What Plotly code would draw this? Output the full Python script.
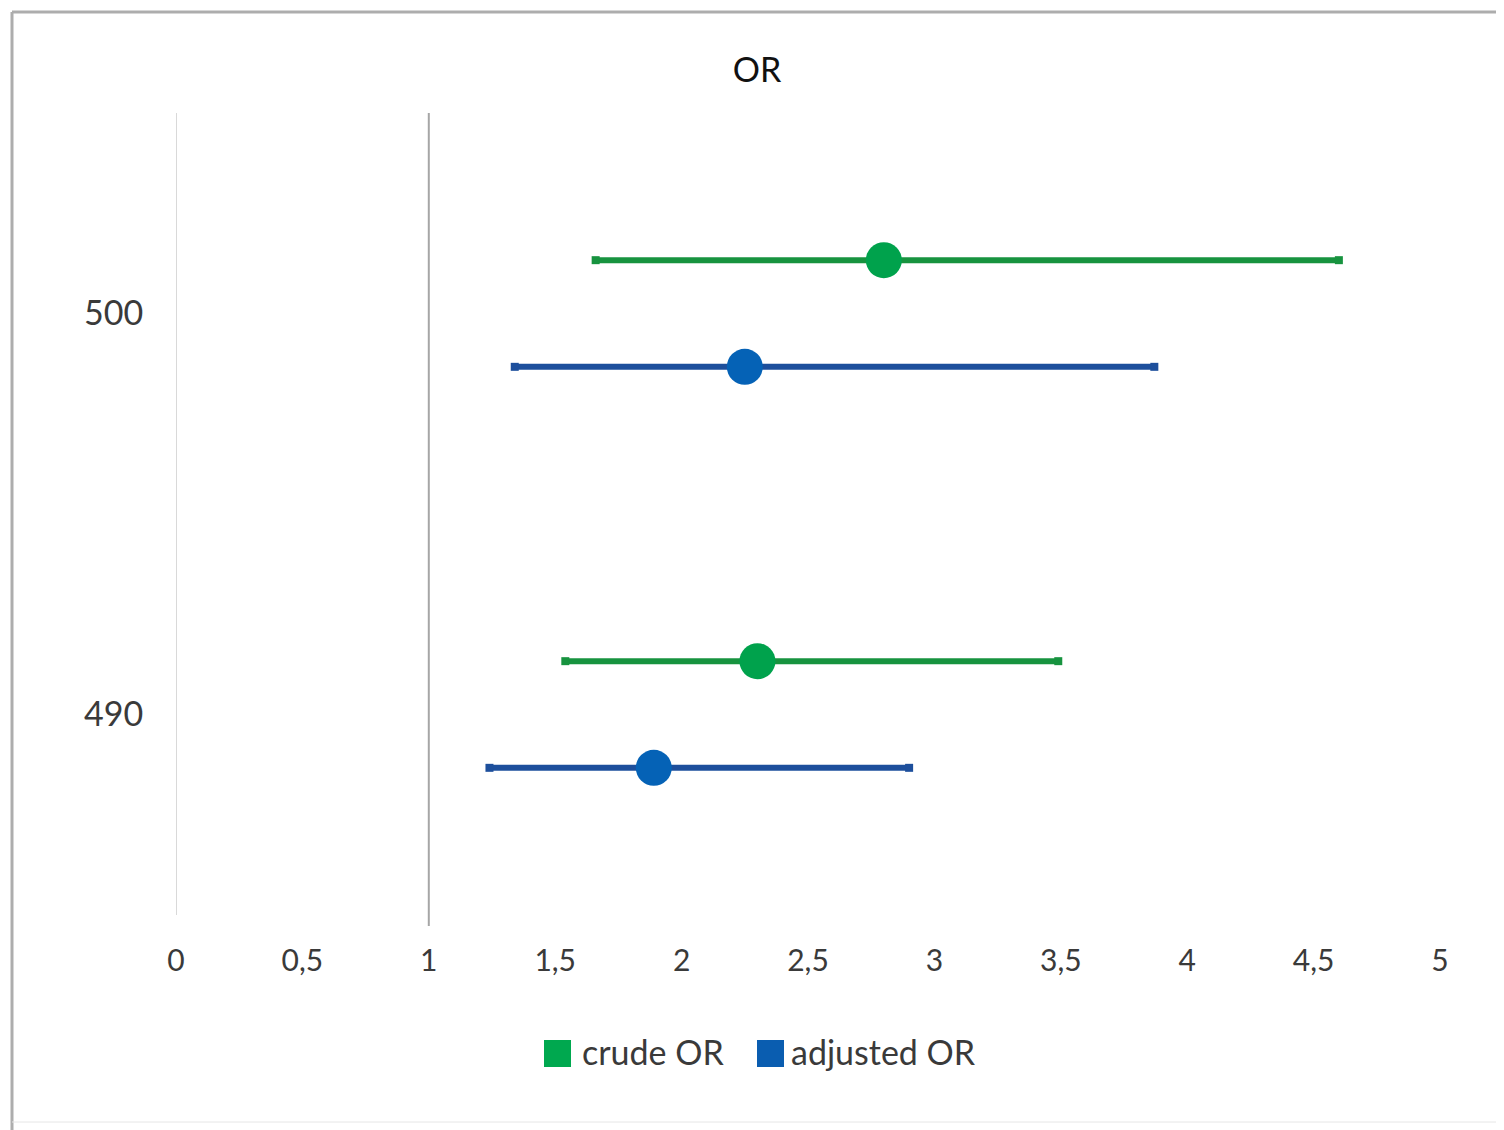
import plotly.graph_objects as go

# ---- data ----
categories = ["490", "500"]
crude_or = [2.30, 2.80]
crude_lo = [1.54, 1.66]
crude_hi = [3.49, 4.60]
adj_or = [1.89, 2.25]
adj_lo = [1.24, 1.34]
adj_hi = [2.90, 3.87]
x_ticks = [0, 0.5, 1, 1.5, 2, 2.5, 3, 3.5, 4, 4.5, 5]
x_tick_labels = ["0", "0,5", "1", "1,5", "2", "2,5", "3", "3,5", "4", "4,5", "5"]
legend_names = ["crude OR", "adjusted OR"]

OFF = 8  # page body margin
W, H = 1504 - OFF, 1130 - OFF
L, T = 176 - OFF, 113 - OFF
R = 1504 - 1440
B = 1130 - 915
PW, PH = W - L - R, H - T - B
FONT = "Lato, 'Open Sans', sans-serif"
TXT = "#3a3a3a"

def px_x(p):
    return (p - OFF - L) / PW

def px_y(p):
    return (H - B - (p - OFF)) / PH

series = [
    (legend_names[0], crude_or, crude_lo, crude_hi, +0.133, "#17933F", "#00A24C", "#00A84F"),
    (legend_names[1], adj_or, adj_lo, adj_hi, -0.133, "#1D4F9C", "#0562B6", "#0A5DB0"),
]

fig = go.Figure()
for name, est, lo, hi, off, lcol, mcol, legcol in series:
    xs, ys = [], []
    for i in range(len(categories)):
        xs += [lo[i], hi[i], None]
        ys += [i + off, i + off, None]
    fig.add_trace(go.Scatter(
        x=xs, y=ys, mode="lines+markers",
        line=dict(color=lcol, width=6),
        marker=dict(symbol="square", size=8, color=lcol),
        showlegend=False, hoverinfo="skip"))
    fig.add_trace(go.Scatter(
        x=est, y=[i + off for i in range(len(categories))], mode="markers",
        marker=dict(symbol="circle", size=36, color=mcol),
        showlegend=False, name=name))

shapes = [
    dict(type="line", xref="x", yref="paper", x0=0, x1=0, y0=0, y1=1,
         line=dict(color="#D9D9D9", width=2)),
    dict(type="line", xref="x", yref="paper", x0=1, x1=1, y0=px_y(926), y1=1,
         line=dict(color="#A6A6A6", width=2)),
    dict(type="line", xref="paper", yref="paper", x0=px_x(12), x1=px_x(1515),
         y0=px_y(12), y1=px_y(12), line=dict(color="#ADADAD", width=3)),
    dict(type="line", xref="paper", yref="paper", x0=px_x(12), x1=px_x(12),
         y0=px_y(12), y1=px_y(1140), line=dict(color="#ADADAD", width=3)),
    dict(type="line", xref="paper", yref="paper", x0=px_x(12), x1=px_x(1515),
         y0=px_y(1122), y1=px_y(1122), line=dict(color="#E6E6E6", width=1)),
]

# manual legend (large square swatches like the reference)
legend_items = [(legend_names[0], "#00A84F", 544, 580), (legend_names[1], "#0A5DB0", 757, 789)]
annotations = []
for name, col, sx, tx in legend_items:
    shapes.append(dict(type="rect", xref="paper", yref="paper",
                       x0=px_x(sx), x1=px_x(sx + 27), y0=px_y(1067), y1=px_y(1040),
                       fillcolor=col, line=dict(width=0)))
    annotations.append(dict(text=name, xref="paper", yref="paper",
                            x=px_x(tx), y=px_y(1051), xanchor="left", yanchor="middle",
                            showarrow=False, font=dict(family=FONT, size=34, color=TXT)))

fig.update_layout(
    width=W, height=H,
    margin=dict(l=L, r=R, t=T, b=B),
    paper_bgcolor="white", plot_bgcolor="white",
    font=dict(family=FONT, size=29, color=TXT),
    showlegend=False,
    title=dict(text="OR", x=px_x(757), xref="paper", xanchor="center",
               y=1 - (70 - OFF) / H, yref="container", yanchor="middle",
               font=dict(family=FONT, size=34, color="#111111")),
    xaxis=dict(range=[0, 5], tickvals=x_ticks, ticktext=x_tick_labels,
               showgrid=False, zeroline=False, showline=False,
               ticks="outside", ticklen=19, tickcolor="rgba(0,0,0,0)",
               tickfont=dict(size=30, color=TXT)),
    yaxis=dict(range=[-0.5, 1.5], tickvals=[0, 1], ticktext=categories,
               showgrid=False, zeroline=False, showline=False,
               ticks="outside", ticklen=25, tickcolor="rgba(0,0,0,0)",
               tickfont=dict(size=34, color=TXT)),
    shapes=shapes,
    annotations=annotations,
)

fig.write_html("out.html")
